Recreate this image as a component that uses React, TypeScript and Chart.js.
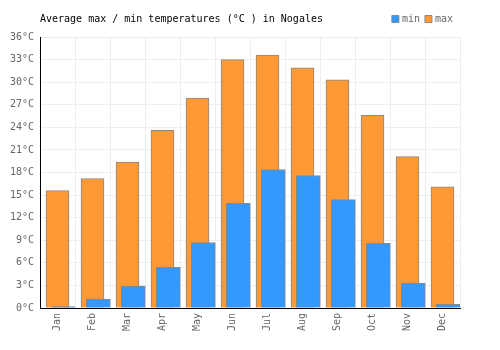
import React, { useEffect, useRef } from 'react';
import { Chart, registerables } from 'chart.js';

Chart.register(...registerables);

const months = ['Jan', 'Feb', 'Mar', 'Apr', 'May', 'Jun', 'Jul', 'Aug', 'Sep', 'Oct', 'Nov', 'Dec'];
const maxTemps = [15.6, 17.2, 19.4, 23.6, 27.9, 33.0, 33.6, 31.9, 30.3, 25.6, 20.1, 16.1];
const minTemps = [0.2, 1.2, 2.9, 5.4, 8.7, 13.9, 18.4, 17.6, 14.4, 8.6, 3.3, 0.5];
const titleText = 'Average max / min temperatures (°C ) in Nogales';
const seriesNames = ['min', 'max'];

const FONT = 'DejaVu Sans Mono';

export default function App() {
  const ref = useRef<HTMLCanvasElement>(null);

  useEffect(() => {
    if (!ref.current) return;
    const shift = 0.166;
    const titlePlugin = {
      id: 'leftTitle',
      afterDraw(chart: any) {
        const ctx = chart.ctx;
        ctx.save();
        ctx.font = `10px "${FONT}"`;
        ctx.fillStyle = '#000';
        ctx.textBaseline = 'middle';
        ctx.textAlign = 'left';
        ctx.fillText(titleText, chart.chartArea.left, 19);
        ctx.restore();
      },
    };
    const font = { family: FONT, size: 10 };
    const chart = new Chart(ref.current, {
      type: 'bar',
      data: {
        labels: months,
        datasets: [
          {
            label: seriesNames[0],
            data: minTemps.map((v, i) => ({ x: i, y: v })) as any,
            xAxisID: 'xMin',
            backgroundColor: '#3399ff',
            borderColor: '#888888',
            borderWidth: 1,
            barThickness: 24,
            grouped: false,
          },
          {
            label: seriesNames[1],
            data: maxTemps,
            xAxisID: 'x',
            backgroundColor: '#ff9933',
            borderColor: '#888888',
            borderWidth: 1,
            barThickness: 23,
            grouped: false,
          },
        ],
      },
      options: {
        animation: false,
        responsive: true,
        maintainAspectRatio: false,
        layout: { padding: { left: 0, right: 40, top: 7, bottom: 0 } },
        plugins: {
          legend: {
            position: 'top',
            align: 'end',
            labels: {
              usePointStyle: true,
              pointStyle: 'rect',
              boxWidth: 3,
              boxHeight: 7,
              font,
              color: '#666',
              padding: 7,
            },
          },
          tooltip: { enabled: false },
          title: {
            display: true,
            text: '',
            weight: 500,
            padding: 0,
            font: { size: 3, lineHeight: '3px' },
          },
        },
        scales: {
          x: {
            type: 'category',
            offset: true,
            grid: { offset: true, color: '#eeeeee', drawTicks: false },
            border: { color: '#000' },
            ticks: { color: '#666', minRotation: 90, maxRotation: 90, padding: 5, font },
            afterFit(s: any) { s.height = 42; },
          },
          xMin: {
            type: 'linear',
            display: false,
            offset: false,
            min: -0.5 - shift,
            max: 11.5 - shift,
          },
          y: {
            min: 0,
            max: 36,
            ticks: { stepSize: 3, callback: (v: any) => v + '°C', color: '#666', padding: 6, font },
            grid: { color: '#eeeeee', drawTicks: false },
            border: { color: '#000' },
            afterFit(s: any) { s.width = 40; },
          },
        },
      } as any,
      plugins: [titlePlugin],
    });
    return () => chart.destroy();
  }, []);

  return (
    <div style={{ position: 'fixed', left: 0, top: 0, width: 500, height: 350 }}>
      <canvas ref={ref} />
    </div>
  );
}
